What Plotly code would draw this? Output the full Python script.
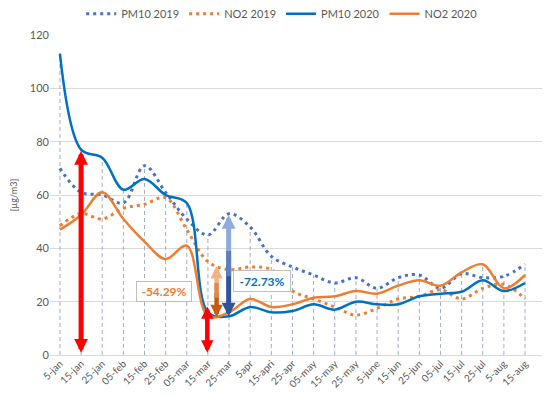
import plotly.graph_objects as go

dates = ["5-jan", "15-jan", "25-jan", "05-feb", "15-feb", "25-feb", "05-mar", "15-mar",
         "25-mar", "5apr", "15-apri", "25-apr", "05-may", "15-may", "25-may", "5-june",
         "15-jun", "25-jun", "05-jul", "15-jul", "25-jul", "5-aug", "15-aug"]

pm10_2019 = [70, 61, 60, 57, 71, 61, 51, 45, 53, 48, 37, 33, 30, 27, 29, 25,
             29, 30, 25, 30.5, 29, 29.5, 34]
no2_2019 = [48.5, 53, 51, 55, 56.5, 59, 47, 35, 32, 33, 32, 24, 21, 18, 15, 17.5,
            21, 22, 24.5, 21, 25, 26.5, 21]
pm10_2020 = [113, 77, 74, 62, 66, 60, 57, 16, 14.5, 18, 16, 16.5, 19, 17, 20, 19,
             19, 22, 23, 23.7, 28, 24, 27]
no2_2020 = [47, 52.5, 61, 51, 42.5, 36, 41, 14.5, 16, 21, 18, 19, 21.5, 22, 24, 23,
            26, 28, 26, 31, 34, 25, 30]

yticks = [0, 20, 40, 60, 80, 100, 120]

BLUE19 = "#4472C4"
BLUE20 = "#0070C0"
ORANGE = "#ED7D31"
GRAY = "#595959"
FONT = "Lato"

idx = list(range(len(dates)))
fig = go.Figure()

# drop lines from highest series point to the axis
dx, dy = [], []
for i in idx:
    top = max(pm10_2019[i], no2_2019[i], pm10_2020[i], no2_2020[i])
    dx += [i, i, None]
    dy += [0, top, None]
fig.add_trace(go.Scatter(x=dx, y=dy, mode="lines", showlegend=False, hoverinfo="skip",
                         line=dict(color="#A3ADC4", width=1, dash="4px,3px")))

series = [
    ("PM10 2019", pm10_2019, BLUE19, 3, "3px,4px"),
    ("NO2 2019", no2_2019, ORANGE, 3, "3px,4px"),
    ("PM10 2020", pm10_2020, BLUE20, 2.5, "solid"),
    ("NO2 2020", no2_2020, ORANGE, 2.5, "solid"),
]
for name, vals, col, w, dash in series:
    fig.add_trace(go.Scatter(x=idx, y=vals, mode="lines", name=name,
                             line=dict(color=col, width=w, dash=dash, shape="spline", smoothing=1)))

def arrow(x, y0, y1, color, width, size, both=True, head=True):
    fig.add_annotation(x=x, y=y1, ax=x, ay=y0, xref="x", yref="y", axref="x", ayref="y",
                       text="", showarrow=True, arrowcolor=color, arrowwidth=width,
                       arrowhead=2 if head else 0, arrowsize=size,
                       startarrowhead=2, startarrowsize=size,
                       arrowside="end+start" if both else "end", standoff=0, startstandoff=0)

# red double arrows
arrow(1, 0.3, 76.5, "#FF0000", 5, 0.55)
arrow(6.97, 0.3, 18.2, "#FF0000", 4.5, 0.55)
# orange gradient-like arrow (pieces)
arrow(7.41, 24, 33.3, "#F4B183", 4.5, 0.55, both=False)
arrow(7.41, 24, 14.2, "#C55A11", 4.5, 0.55, both=False)
arrow(7.41, 21, 27, "#E08A4F", 4.5, 0.55, both=False, head=False)
# blue gradient-like arrow
arrow(7.98, 34, 52.5, "#8FAADC", 5, 0.55, both=False)
arrow(7.98, 34, 14.4, "#2F5597", 5, 0.55, both=False)
arrow(7.98, 29, 39, "#5B7EC0", 5, 0.55, both=False, head=False)

# percentage boxes
fig.add_annotation(x=4.9, y=24, xref="x", yref="y", text="<b>-54.29%</b>", showarrow=False,
                   font=dict(family=FONT, size=12, color=ORANGE), bgcolor="white",
                   bordercolor="#BFBFBF", borderwidth=1, width=52, height=17, borderpad=1)
fig.add_annotation(x=9.55, y=27.6, xref="x", yref="y", text="<b>-72.73%</b>", showarrow=False,
                   font=dict(family=FONT, size=12, color=BLUE20), bgcolor="white",
                   bordercolor="#BFBFBF", borderwidth=1, width=54, height=18, borderpad=1)

# the page adds an 8px body margin, so the figure is sized to fit inside it
fig.update_layout(
    width=542, height=389,
    margin=dict(l=42, r=7, t=27, b=42, autoexpand=False),
    paper_bgcolor="white", plot_bgcolor="white",
    font=dict(family=FONT, color=GRAY),
    showlegend=True,
    legend=dict(orientation="h", x=0.47, xanchor="center", yref="paper", y=1.112,
                yanchor="top", font=dict(family=FONT, size=11, color=GRAY),
                itemwidth=30, bgcolor="rgba(0,0,0,0)"),
    xaxis=dict(range=[-0.47, 22.85], tickmode="array", tickvals=idx, ticktext=dates,
               tickangle=-45, tickfont=dict(family=FONT, size=10, color=GRAY),
               showgrid=False, zeroline=False, showline=False, ticks="", automargin=False),
    yaxis=dict(range=[0, 120], tickmode="array", tickvals=yticks,
               tickfont=dict(family=FONT, size=11, color=GRAY),
               showgrid=True, gridcolor="#D9D9D9", gridwidth=1,
               zeroline=True, zerolinecolor="#D9D9D9", zerolinewidth=1,
               showline=False, ticks="", automargin=False,
               title=dict(text="[µg/m3]", font=dict(family=FONT, size=9, color=GRAY), standoff=20)),
)

fig.write_html("out.html")
